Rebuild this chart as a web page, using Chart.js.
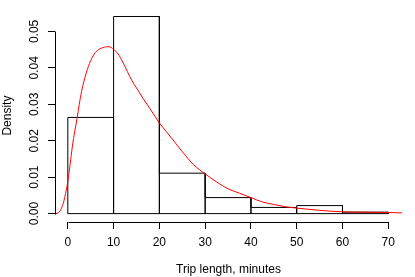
<!DOCTYPE html>
<html>
<head>
<meta charset="utf-8">
<script src="https://cdn.jsdelivr.net/npm/chart.js@4"></script>
<style>
  body { margin: 0; background: #fff; }
</style>
</head>
<body>
<canvas id="histChart" width="415" height="277"></canvas>
<script>
// DATA
const binEdges = [0, 10, 20, 30, 40, 50, 60, 70];
const binDensity = [0.0264, 0.0541, 0.0111, 0.0044, 0.0017, 0.0022, 0.0004];

const densX = [-3, -2.6, -2, -1.5, -1, -0.5, 0, 0.5, 1, 1.5, 2, 2.5, 3, 4, 5, 6, 7, 8, 9, 10,
  11, 12, 13, 14, 15, 16.5, 18, 20, 21.5, 23, 25, 27.5, 30, 32.5, 35, 37.5, 40, 42.5, 45, 47.5,
  50, 55, 60, 65, 70, 73];
const densY = [0, 0, 0.0003, 0.0012, 0.0028, 0.0055, 0.0088, 0.0135, 0.0185, 0.0225, 0.026, 0.030,
  0.0335, 0.0385, 0.042, 0.0442, 0.0452, 0.0457, 0.0458, 0.0451, 0.0438, 0.0416, 0.039, 0.0365,
  0.0345, 0.0315, 0.0287, 0.0249, 0.0225, 0.0202, 0.017, 0.0134, 0.0109, 0.0087, 0.0068, 0.0056,
  0.0044, 0.0032, 0.0025, 0.0019, 0.0015, 0.0009, 0.0005, 0.0004, 0.0003, 0.0002];

const xTicks = [0, 10, 20, 30, 40, 50, 60, 70];
const yTicks = [0, 0.01, 0.02, 0.03, 0.04, 0.05];

// histogram outline as one path through the bin corners
const histPts = [];
binDensity.forEach((d, i) => {
  const a = binEdges[i], b = binEdges[i + 1];
  histPts.push({x: a, y: 0}, {x: a, y: d}, {x: b, y: d}, {x: b, y: 0});
});
histPts.push({x: binEdges[0], y: 0});

const densPts = densX.map((x, i) => ({x: x, y: densY[i]}));

const FONT = {family: "'Liberation Sans', Arial, sans-serif", size: 12};

// R style axis lines: only from first to last tick
const rAxes = {
  id: 'rAxes',
  afterDraw(chart) {
    const {ctx, chartArea, scales} = chart;
    const x = scales.x, y = scales.y;
    ctx.save();
    ctx.strokeStyle = '#000';
    ctx.lineWidth = 1;
    ctx.beginPath();
    const yb = Math.round(chartArea.bottom) + 0.5;
    ctx.moveTo(Math.round(x.getPixelForValue(xTicks[0])) + 0.5, yb);
    ctx.lineTo(Math.round(x.getPixelForValue(xTicks[xTicks.length - 1])) + 0.5, yb);
    const xl = Math.round(chartArea.left) + 0.5;
    ctx.moveTo(xl, Math.round(y.getPixelForValue(yTicks[0])) + 0.5);
    ctx.lineTo(xl, Math.round(y.getPixelForValue(yTicks[yTicks.length - 1])) + 0.5);
    ctx.stroke();
    ctx.restore();
  }
};

const ctx = document.getElementById('histChart').getContext('2d');
const histChart = new Chart(ctx, {
  type: 'scatter',
  data: {
    datasets: [{
      label: 'density',
      data: densPts,
      showLine: true,
      borderColor: '#ff0000',
      borderWidth: 1,
      pointRadius: 0,
      cubicInterpolationMode: 'monotone'
    }, {
      label: 'hist',
      data: histPts,
      showLine: true,
      borderColor: '#000',
      borderWidth: 1,
      pointRadius: 0,
      tension: 0
    }]
  },
  options: {
    responsive: false,
    animation: false,
    layout: {padding: {top: 0, right: 13, left: 0, bottom: 0}},
    plugins: {
      legend: {display: false},
      tooltip: {enabled: false}
    },
    scales: {
      x: {
        type: 'linear',
        min: -2.8,
        max: 73.0,
        afterBuildTicks: s => { s.ticks = xTicks.map(v => ({value: v})); },
        afterFit: s => { s.height = 55; },
        grid: {display: true, drawOnChartArea: false, drawTicks: true, tickLength: 7, color: '#000'},
        border: {display: false},
        ticks: {color: '#000', font: FONT, padding: 6, maxRotation: 0},
        title: {display: true, text: 'Trip length, minutes', color: '#000', font: FONT, padding: 0}
      },
      y: {
        type: 'linear',
        min: -0.0023,
        max: 0.0561,
        afterBuildTicks: s => { s.ticks = yTicks.map(v => ({value: v})); },
        afterFit: s => { s.width = 55; },
        grid: {display: true, drawOnChartArea: false, drawTicks: true, tickLength: 7, color: '#000'},
        border: {display: false},
        ticks: {
          color: '#000', font: FONT, padding: 2, minRotation: 90, maxRotation: 90,
          crossAlign: 'center',
          callback: v => v.toFixed(2)
        },
        title: {display: true, text: 'Density', color: '#000', font: FONT, padding: 0}
      }
    }
  },
  plugins: [rAxes]
});
</script>
</body>
</html>
